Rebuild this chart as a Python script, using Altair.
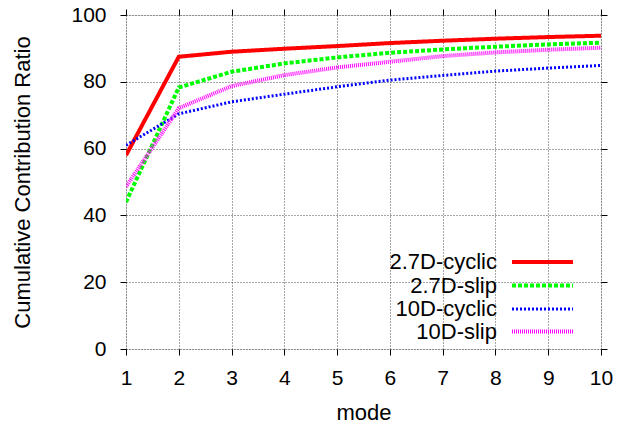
import altair as alt
import pandas as pd

modes = [1, 2, 3, 4, 5, 6, 7, 8, 9, 10]
cyclic_27 = [58.0, 87.5, 89.0, 89.9, 90.7, 91.6, 92.3, 92.9, 93.4, 93.8]
slip_27 = [44.0, 78.3, 83.0, 85.5, 87.3, 88.7, 89.7, 90.5, 91.2, 91.7]
cyclic_10 = [61.0, 70.4, 74.0, 76.3, 78.5, 80.5, 81.9, 83.2, 84.1, 84.9]
slip_10 = [48.6, 72.1, 78.7, 82.0, 84.3, 86.0, 87.7, 88.8, 89.6, 90.2]

series_names = ["2.7D-cyclic", "2.7D-slip", "10D-cyclic", "10D-slip"]
series_values = [cyclic_27, slip_27, cyclic_10, slip_10]
colors = ["#ff0000", "#00ff00", "#0000ff", "#ff00ff"]
dashes = [[1, 0], [4, 2], [2, 2], [1, 1]]
widths = [4, 4, 3, 4]
x_ticks = modes
y_ticks = [0, 20, 40, 60, 80, 100]

FONT = "Liberation Sans"
W, H = 475, 334

x_scale = alt.Scale(domain=[1, 10], nice=False)
y_scale = alt.Scale(domain=[0, 100], nice=False)

axis_common = dict(
    domain=False,
    tickColor="black",
    tickSize=6,
    tickWidth=1,
    labelFont=FONT,
    labelFontSize=21,
    labelColor="black",
    labelFlush=False,
    titleFont=FONT,
    titleFontSize=22,
    titleFontWeight="normal",
    titleColor="black",
    gridColor="black",
    gridDash=[1, 2],
    gridOpacity=0.7,
    gridWidth=1,
)

main_axes = alt.Chart(pd.DataFrame({"mode": modes, "value": cyclic_27})).mark_line(opacity=0).encode(
    x=alt.X("mode:Q", scale=x_scale,
            axis=alt.Axis(title="mode", values=x_ticks, grid=True, labelPadding=12,
                          titlePadding=14, **axis_common)),
    y=alt.Y("value:Q", scale=y_scale,
            axis=alt.Axis(title="Cumulative Contribution Ratio", values=y_ticks,
                          grid=True, labelPadding=14, titlePadding=36, **axis_common)),
)

mirror = alt.Chart(pd.DataFrame({"mode": modes, "value": cyclic_27})).mark_line(opacity=0).encode(
    x=alt.X("mode:Q", scale=x_scale,
            axis=alt.Axis(orient="top", values=x_ticks, labels=False, title=None, grid=False,
                          domain=False, tickColor="black", tickSize=6)),
    y=alt.Y("value:Q", scale=y_scale,
            axis=alt.Axis(orient="right", values=y_ticks, labels=False,
                          title=None, grid=False, domain=False, tickColor="black", tickSize=6)),
)

layers = []
for name, vals, col, dash, w in zip(series_names, series_values, colors, dashes, widths):
    df = pd.DataFrame({"mode": modes, "value": vals})
    line = alt.Chart(df).mark_line(
        color=col, strokeWidth=w, strokeDash=dash, strokeCap="butt", clip=True
    ).encode(
        x=alt.X("mode:Q", scale=x_scale, axis=None),
        y=alt.Y("value:Q", scale=y_scale, axis=None),
    )
    layers.append(line)

# legend inside plot
legend_rows = [247, 270.5, 294, 316.5]
legend_layers = []
for name, col, dash, w, yr in zip(series_names, colors, dashes, widths, legend_rows):
    ldf = pd.DataFrame({"label": [name]})
    txt = alt.Chart(ldf).mark_text(
        align="right", baseline="middle", font=FONT, fontSize=22, color="black"
    ).encode(x=alt.value(371), y=alt.value(yr), text="label:N")
    rule = alt.Chart(ldf).mark_rule(
        color=col, strokeWidth=w, strokeDash=dash, strokeCap="butt"
    ).encode(x=alt.value(386), x2=alt.value(447), y=alt.value(yr))
    legend_layers += [txt, rule]

chart = alt.layer(main_axes, mirror, *layers, *legend_layers).resolve_axis(
    x="independent", y="independent"
).properties(
    width=W, height=H,
    autosize=alt.AutoSizeParams(type="none"),
    padding={"left": 126, "top": 15, "right": 31, "bottom": 76},
).configure_view(
    stroke="black", strokeWidth=1.5
).configure(background="white")

chart.save("out.html", embed_options={"renderer": "svg", "actions": False})
